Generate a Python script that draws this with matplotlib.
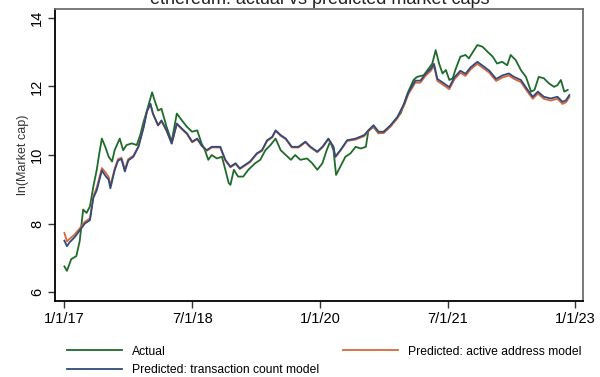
import matplotlib
matplotlib.use("Agg")
import matplotlib.pyplot as plt

plt.rcParams['font.family'] = ['Liberation Sans', 'DejaVu Sans']

# decimal year -> ln(market cap)
actual_t = [2017.00, 2017.03, 2017.08, 2017.14, 2017.18, 2017.22, 2017.26, 2017.30, 2017.34, 2017.38,
            2017.41, 2017.44, 2017.48, 2017.52, 2017.56, 2017.59, 2017.65, 2017.69, 2017.73, 2017.79,
            2017.85, 2017.89, 2017.93, 2017.97, 2018.03, 2018.06, 2018.10, 2018.14, 2018.20, 2018.26,
            2018.32, 2018.38, 2018.44, 2018.50, 2018.56, 2018.61, 2018.65, 2018.69, 2018.73, 2018.79,
            2018.85, 2018.89, 2018.93, 2018.95, 2018.99, 2019.04, 2019.10, 2019.16, 2019.24, 2019.30,
            2019.36, 2019.42, 2019.48, 2019.54, 2019.60, 2019.66, 2019.71, 2019.77, 2019.85, 2019.91,
            2019.97, 2020.03, 2020.08, 2020.12, 2020.16, 2020.19, 2020.24, 2020.30, 2020.36, 2020.42,
            2020.48, 2020.54, 2020.57, 2020.63, 2020.69, 2020.75, 2020.83, 2020.95, 2021.03, 2021.10,
            2021.14, 2021.22, 2021.28, 2021.32, 2021.36, 2021.40, 2021.44, 2021.48, 2021.52, 2021.56,
            2021.59, 2021.65, 2021.71, 2021.75, 2021.81, 2021.85, 2021.91, 2021.97, 2022.03, 2022.08,
            2022.14, 2022.20, 2022.24, 2022.30, 2022.36, 2022.42, 2022.48, 2022.52, 2022.57, 2022.63,
            2022.69, 2022.75, 2022.79, 2022.83, 2022.87, 2022.91]
actual_v = [6.75, 6.62, 6.96, 7.05, 7.49, 8.41, 8.31, 8.50, 9.08, 9.57,
            10.05, 10.48, 10.24, 9.95, 9.81, 10.14, 10.48, 10.14, 10.29, 10.34,
            10.29, 10.58, 10.97, 11.30, 11.83, 11.59, 11.30, 11.35, 10.82, 10.39,
            11.21, 11.01, 10.82, 10.68, 10.72, 10.34, 10.14, 9.86, 10.00, 9.90,
            9.95, 9.57, 9.18, 9.13, 9.57, 9.37, 9.37, 9.57, 9.76, 9.86,
            10.14, 10.29, 10.48, 10.14, 10.00, 9.86, 10.00, 9.86, 9.90, 9.76,
            9.57, 9.76, 10.14, 10.39, 10.14, 9.42, 9.66, 9.95, 10.05, 10.24,
            10.19, 10.24, 10.72, 10.82, 10.63, 10.68, 10.85, 11.22, 11.80, 12.19,
            12.28, 12.33, 12.53, 12.67, 13.06, 12.67, 12.38, 12.48, 12.19, 12.24,
            12.48, 12.87, 12.92, 12.82, 13.06, 13.21, 13.16, 13.01, 12.87, 12.67,
            12.72, 12.62, 12.92, 12.77, 12.48, 12.28, 11.85, 11.90, 12.28, 12.24,
            12.09, 11.99, 12.04, 12.19, 11.85, 11.90]

pred_t = [2017.00, 2017.03, 2017.06, 2017.12, 2017.18, 2017.24, 2017.30, 2017.34, 2017.38, 2017.44,
          2017.48, 2017.52, 2017.54, 2017.59, 2017.63, 2017.67, 2017.71, 2017.75, 2017.81, 2017.87,
          2017.93, 2017.97, 2018.01, 2018.04, 2018.10, 2018.14, 2018.20, 2018.26, 2018.32, 2018.38,
          2018.44, 2018.50, 2018.56, 2018.61, 2018.67, 2018.73, 2018.83, 2018.89, 2018.95, 2019.01,
          2019.06, 2019.12, 2019.18, 2019.26, 2019.32, 2019.38, 2019.44, 2019.48, 2019.54, 2019.60,
          2019.67, 2019.75, 2019.83, 2019.89, 2019.97, 2020.03, 2020.10, 2020.16, 2020.18, 2020.24,
          2020.32, 2020.42, 2020.52, 2020.57, 2020.63, 2020.69, 2020.75, 2020.83, 2020.91, 2020.99,
          2021.04, 2021.12, 2021.18, 2021.24, 2021.30, 2021.34, 2021.38, 2021.44, 2021.52, 2021.58,
          2021.65, 2021.71, 2021.77, 2021.85, 2021.91, 2021.99, 2022.07, 2022.14, 2022.22, 2022.28,
          2022.36, 2022.44, 2022.50, 2022.56, 2022.63, 2022.71, 2022.79, 2022.85, 2022.89, 2022.93]
# Predicted: transaction count model
txn_v = [7.50, 7.34, 7.45, 7.60, 7.80, 8.00, 8.10, 8.75, 8.97, 9.55,
         9.40, 9.28, 9.03, 9.55, 9.84, 9.88, 9.52, 9.84, 9.95, 10.24,
         10.80, 11.28, 11.50, 11.21, 10.87, 11.01, 10.72, 10.34, 10.92, 10.77,
         10.63, 10.39, 10.48, 10.29, 10.14, 10.24, 10.24, 9.86, 9.66, 9.76,
         9.61, 9.71, 9.81, 10.05, 10.14, 10.43, 10.53, 10.72, 10.58, 10.48,
         10.24, 10.24, 10.39, 10.24, 10.10, 10.24, 10.48, 10.24, 9.95, 10.14,
         10.43, 10.48, 10.58, 10.72, 10.87, 10.68, 10.68, 10.87, 11.11, 11.50,
         11.83, 12.17, 12.17, 12.37, 12.51, 12.66, 12.22, 12.12, 11.98, 12.27,
         12.46, 12.37, 12.56, 12.72, 12.61, 12.46, 12.22, 12.32, 12.38, 12.28,
         12.19, 11.90, 11.70, 11.85, 11.70, 11.65, 11.70, 11.55, 11.60, 11.75]
# Predicted: active address model
addr_v = [7.73, 7.48, 7.55, 7.68, 7.86, 8.05, 8.15, 8.80, 9.05, 9.62,
          9.50, 9.36, 9.10, 9.60, 9.88, 9.92, 9.58, 9.88, 9.98, 10.26,
          10.82, 11.28, 11.48, 11.20, 10.86, 10.99, 10.70, 10.33, 10.90, 10.75,
          10.61, 10.37, 10.46, 10.27, 10.12, 10.22, 10.22, 9.84, 9.64, 9.74,
          9.59, 9.69, 9.79, 10.03, 10.12, 10.41, 10.51, 10.70, 10.56, 10.46,
          10.22, 10.22, 10.37, 10.22, 10.08, 10.22, 10.46, 10.22, 9.93, 10.12,
          10.41, 10.45, 10.55, 10.69, 10.84, 10.64, 10.64, 10.83, 11.07, 11.45,
          11.78, 12.11, 12.11, 12.31, 12.45, 12.60, 12.16, 12.06, 11.92, 12.21,
          12.40, 12.31, 12.50, 12.66, 12.55, 12.40, 12.16, 12.26, 12.32, 12.22,
          12.13, 11.84, 11.64, 11.79, 11.64, 11.59, 11.64, 11.49, 11.54, 11.69]

xtick_pos = [2017.0, 2018.5, 2020.0, 2021.5, 2023.0]
xtick_lab = ['1/1/17', '7/1/18', '1/1/20', '7/1/21', '1/1/23']
ytick_pos = [6, 8, 10, 12, 14]

fig = plt.figure(figsize=(6, 3.77), dpi=100)
ax = fig.add_axes([0.0917, 0.2016, 0.88, 0.7744])

l_act, = ax.plot(actual_t, actual_v, color='#1e6b2a', lw=1.3, label='Actual')
l_addr, = ax.plot(pred_t, addr_v, color='#d9663a', lw=1.3, label='Predicted: active address model')
l_txn, = ax.plot(pred_t, txn_v, color='#2f4b7c', lw=1.3, label='Predicted: transaction count model')

ax.set_xlim(2016.89, 2023.09)
ax.set_ylim(5.74, 14.26)
ax.set_xticks(xtick_pos)
ax.set_xticklabels(xtick_lab, fontsize=10.5)
ax.set_yticks(ytick_pos)
ax.set_yticklabels([str(v) for v in ytick_pos], fontsize=10.5, rotation=90, va='center')
ax.tick_params(direction='out', length=5, width=1, color='#333333', pad=3)
ax.set_ylabel('ln(Market cap)', fontsize=9, labelpad=1, color='#333333')

for s in ['left', 'bottom']:
    ax.spines[s].set_color('black')
    ax.spines[s].set_linewidth(1.3)
for s in ['top', 'right']:
    ax.spines[s].set_color('#6e6e6e')
    ax.spines[s].set_linewidth(1.3)

fig.text(0.533, 0.989, 'ethereum: actual vs predicted market caps', ha='center',
         va='baseline', fontsize=13, color='#222222')

# column-major fill: Actual / transaction count in col 1, active address in col 2
fig.legend(handles=[l_act, l_txn, l_addr], loc='upper left', bbox_to_anchor=(0.112, 0.083),
           ncol=2, frameon=False, fontsize=8.7, handlelength=4.5, columnspacing=2.0,
           labelspacing=0.55, handletextpad=0.85, borderpad=0, borderaxespad=0)

fig.savefig('out.png', dpi=100)
